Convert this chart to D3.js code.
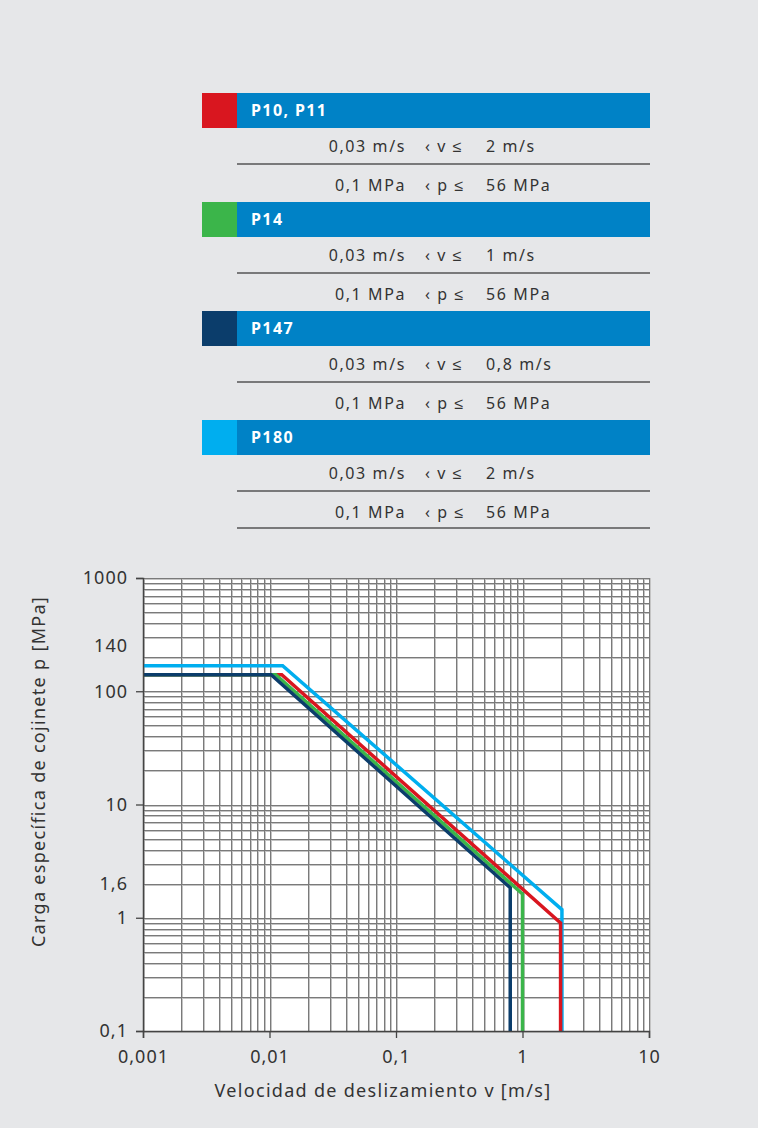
<!DOCTYPE html>
<html>
<head>
<meta charset="utf-8">
<script src="https://cdn.jsdelivr.net/npm/d3@7"></script>
<style>
  html, body { margin: 0; padding: 0; background: #e6e7e9; }
  svg { display: block; }
  text { font-family: "Noto Sans", sans-serif; }
</style>
</head>
<body>
<svg id="chart"></svg>
<script>
// series and their limits (legend table)
const series = ["P10, P11", "P14", "P147", "P180"];
const seriesColors = ["#d9161f", "#3bb54a", "#0b3d6b", "#00aeef"];
const vMin = ["0,03 m/s", "0,03 m/s", "0,03 m/s", "0,03 m/s"];
const vMax = ["2 m/s", "1 m/s", "0,8 m/s", "2 m/s"];
const pMin = ["0,1 MPa", "0,1 MPa", "0,1 MPa", "0,1 MPa"];
const pMax = ["56 MPa", "56 MPa", "56 MPa", "56 MPa"];

// limit curves, [v (m/s), p (MPa)]
const curveP10 = [[0.001, 140], [0.0125, 140], [2, 0.9], [2, 0.1]];
const curveP14 = [[0.001, 140], [0.0112, 140], [1, 1.62], [1, 0.1]];
const curveP147 = [[0.001, 140], [0.0103, 140], [0.8, 1.84], [0.8, 0.1]];
const curveP180 = [[0.001, 168], [0.0127, 168], [2.05, 1.18], [2.05, 0.1]];
const curves = [curveP10, curveP14, curveP147, curveP180];

// axis ticks
const xTicks = [0.001, 0.01, 0.1, 1, 10];
const xTickLabels = ["0,001", "0,01", "0,1", "1", "10"];
const yTicks = [0.1, 1, 10, 100, 1000];
const yTickLabels = ["0,1", "1", "10", "100", "1000"];
// extra labels without tick marks (position value, text)
const yExtraPos = [254, 2.0];
const yExtraLabels = ["140", "1,6"];

const width = 758;
const height = 1128;

const svg = d3.select("#chart")
    .attr("width", width)
    .attr("height", height);

svg.append("rect")
    .attr("width", width)
    .attr("height", height)
    .attr("fill", "#e6e7e9");

// ---- legend table ----
const tblLeft = 202, tblRight = 650, swatch = 35, headH = 35, blockH = 109, tblTop = 93;
const colA = 406, colB = 425, colC = 486;

const blocks = svg.append("g").selectAll("g")
    .data(series)
    .enter()
    .append("g")
    .attr("transform", (d, i) => `translate(0,${tblTop + i * blockH})`);

blocks.append("rect")
    .attr("x", tblLeft).attr("y", 0)
    .attr("width", swatch).attr("height", headH)
    .attr("fill", (d, i) => seriesColors[i]);

blocks.append("rect")
    .attr("x", tblLeft + swatch).attr("y", 0)
    .attr("width", tblRight - tblLeft - swatch).attr("height", headH)
    .attr("fill", "#0082c6");

blocks.append("text")
    .attr("x", tblLeft + swatch + 14).attr("y", headH / 2 + 5.5)
    .attr("fill", "#fff")
    .attr("font-size", 16)
    .attr("font-weight", "bold")
    .attr("letter-spacing", 1.4)
    .text(d => d);

blocks.append("line")
    .attr("x1", tblLeft + swatch).attr("x2", tblRight)
    .attr("y1", 71).attr("y2", 71)
    .attr("stroke", "#555").attr("stroke-width", 1.3);

const rowText = (g, y, a, b, c) => {
    g.append("text").attr("x", colA).attr("y", y).attr("text-anchor", "end").text(a);
    g.append("text").attr("x", colB).attr("y", y).text(b);
    g.append("text").attr("x", colC).attr("y", y).text(c);
};

blocks.each(function (d, i) {
    const g = d3.select(this).append("g")
        .attr("fill", "#333")
        .attr("font-size", 16)
        .attr("letter-spacing", 1.6);
    rowText(g, 59, vMin[i], "\u2039 v \u2264", vMax[i]);
    rowText(g, 98, pMin[i], "\u2039 p \u2264", pMax[i]);
});

// bottom rule of the table
svg.append("line")
    .attr("x1", tblLeft + swatch).attr("x2", tblRight)
    .attr("y1", tblTop + 3 * blockH + 108).attr("y2", tblTop + 3 * blockH + 108)
    .attr("stroke", "#555").attr("stroke-width", 1.3);

// ---- chart ----
const x = d3.scaleLog().domain([0.001, 10]).range([143, 649]);
const y = d3.scaleLog().domain([0.1, 1000]).range([1031, 578]);

svg.append("rect")
    .attr("x", x(0.001)).attr("y", y(1000))
    .attr("width", x(10) - x(0.001)).attr("height", y(0.1) - y(1000))
    .attr("fill", "#fff");

const gridX = [];
for (let e = -3; e < 1; e++) for (let k = 1; k <= 9; k++) gridX.push(k * Math.pow(10, e));
gridX.push(10);
const gridY = [];
for (let e = -1; e < 3; e++) for (let k = 1; k <= 9; k++) gridY.push(k * Math.pow(10, e));
gridY.push(1000);

const grid = svg.append("g");
// light shadow then dark line
grid.selectAll(".vs").data(gridX).enter().append("line")
    .attr("x1", d => Math.round(x(d)) + 1.5).attr("x2", d => Math.round(x(d)) + 1.5)
    .attr("y1", y(1000)).attr("y2", y(0.1))
    .attr("stroke", "#c4c4c4").attr("stroke-width", 1);
grid.selectAll(".hs").data(gridY).enter().append("line")
    .attr("y1", d => Math.round(y(d)) + 1.5).attr("y2", d => Math.round(y(d)) + 1.5)
    .attr("x1", x(0.001)).attr("x2", x(10))
    .attr("stroke", "#c4c4c4").attr("stroke-width", 1);
grid.selectAll(".v").data(gridX).enter().append("line")
    .attr("x1", d => Math.round(x(d)) + 0.5).attr("x2", d => Math.round(x(d)) + 0.5)
    .attr("y1", y(1000)).attr("y2", y(0.1))
    .attr("stroke", "#7a7a7a").attr("stroke-width", 1);
grid.selectAll(".h").data(gridY).enter().append("line")
    .attr("y1", d => Math.round(y(d)) + 0.5).attr("y2", d => Math.round(y(d)) + 0.5)
    .attr("x1", x(0.001)).attr("x2", x(10))
    .attr("stroke", "#7a7a7a").attr("stroke-width", 1);

// curves, dark blue drawn last so it sits on top of the plateau
const line = d3.line().x(d => x(d[0])).y(d => y(d[1]));
const drawOrder = [3, 0, 1, 2];
svg.append("g").selectAll("path")
    .data(drawOrder)
    .enter()
    .append("path")
    .attr("d", i => line(curves[i]))
    .attr("fill", "none")
    .attr("stroke", i => seriesColors[i])
    .attr("stroke-width", 3.5)
    .attr("stroke-linejoin", "miter");

// axes
const xAxis = svg.append("g")
    .attr("transform", `translate(0,${y(0.1)})`)
    .call(d3.axisBottom(x).tickValues(xTicks).tickSize(7).tickPadding(8)
        .tickFormat((d, i) => xTickLabels[i]));
const yAxis = svg.append("g")
    .attr("transform", `translate(${x(0.001)},0)`)
    .call(d3.axisLeft(y).tickValues(yTicks).tickSize(7).tickPadding(8)
        .tickFormat((d, i) => yTickLabels[i]));

[xAxis, yAxis].forEach(a => {
    a.select(".domain").attr("stroke", "#444").attr("stroke-width", 1.5);
    a.selectAll(".tick line").attr("stroke", "#444").attr("stroke-width", 1.3);
    a.selectAll(".tick text")
        .attr("fill", "#333")
        .attr("font-size", 18)
        .attr("letter-spacing", 1)
        .attr("font-family", "Noto Sans, sans-serif");
});
xAxis.selectAll(".tick text").attr("dy", "0.95em");

svg.append("g").selectAll("text")
    .data(yExtraPos)
    .enter()
    .append("text")
    .attr("x", x(0.001) - 15)
    .attr("y", d => y(d))
    .attr("dy", "0.35em")
    .attr("text-anchor", "end")
    .attr("fill", "#333")
    .attr("font-size", 18)
    .attr("letter-spacing", 1)
    .text((d, i) => yExtraLabels[i]);

// axis titles
svg.append("text")
    .attr("x", (x(0.001) + x(10)) / 2 - 13)
    .attr("y", 1097)
    .attr("text-anchor", "middle")
    .attr("fill", "#333")
    .attr("font-size", 18)
    .attr("letter-spacing", 1.3)
    .text("Velocidad de deslizamiento v [m/s]");

svg.append("text")
    .attr("transform", `translate(45,${(y(0.1) + y(1000)) / 2 - 33}) rotate(-90)`)
    .attr("text-anchor", "middle")
    .attr("fill", "#333")
    .attr("font-size", 18)
    .attr("letter-spacing", 1.3)
    .text("Carga específica de cojinete p [MPa]");
</script>
</body>
</html>
